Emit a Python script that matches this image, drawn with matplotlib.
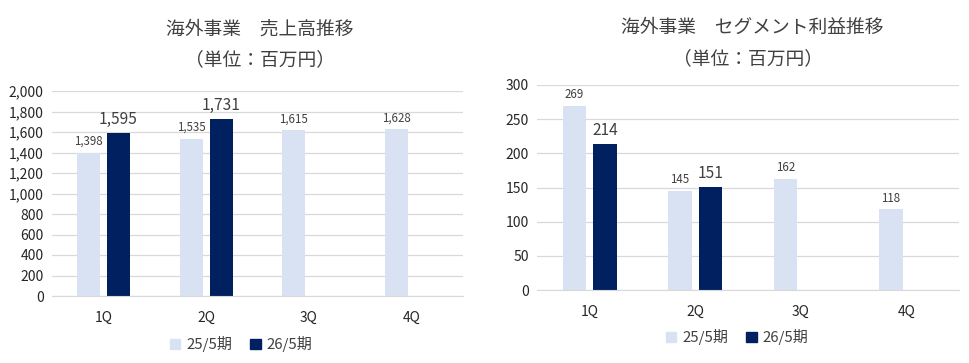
import matplotlib
matplotlib.use("Agg")
import matplotlib.pyplot as plt
import numpy as np
from matplotlib.patches import Patch

plt.rcParams["font.family"] = ["Noto Sans CJK JP", "DejaVu Sans"]

quarters = ["1Q", "2Q", "3Q", "4Q"]
series_names = ["25/5期", "26/5期"]
sales_prev = [1398, 1535, 1615, 1628]
sales_curr = [1595, 1731, np.nan, np.nan]
profit_prev = [269, 145, 162, 118]
profit_curr = [214, 151, np.nan, np.nan]

LIGHT = "#D9E2F3"
DARK = "#002060"
GRID = "#D9D9D9"
TXT = "#404040"

W, H = 970, 363
fig = plt.figure(figsize=[W / 100, H / 100], dpi=100)


def px_axes(x0, y0, x1, y1):
    return fig.add_axes([x0 / W, 1 - y1 / H, (x1 - x0) / W, (y1 - y0) / H])


def draw(ax, prev, curr, ymax, step, fmt):
    x = np.arange(len(quarters))
    bw = 0.224
    off = 0.146
    ax.bar(x - off, prev, bw, color=LIGHT, zorder=2)
    ax.bar(x + off, curr, bw, color=DARK, zorder=2)
    for xi, v in zip(x, prev):
        ax.annotate(fmt(v), (xi - off, v), xytext=(0, 3.5), textcoords="offset points",
                    ha="center", va="bottom", fontsize=8.3, color=TXT)
    for xi, v in zip(x, curr):
        if np.isnan(v):
            continue
        ax.annotate(fmt(v), (xi + off, v), xytext=(0, 3.5), textcoords="offset points",
                    ha="center", va="bottom", fontsize=11.2, color=TXT)
    ax.set_xlim(-0.5, len(quarters) - 0.5)
    ax.set_ylim(0, ymax)
    ticks = np.arange(0, ymax + 1, step)
    ax.set_yticks(ticks)
    ax.set_yticklabels([fmt(t) for t in ticks], fontsize=10, color="#262626")
    ax.set_xticks(x)
    ax.set_xticklabels(quarters, fontsize=10, color="#262626")
    ax.tick_params(length=0)
    ax.tick_params(axis="x", pad=11)
    ax.tick_params(axis="y", pad=6)
    ax.grid(axis="y", color=GRID, linewidth=0.9, zorder=0)
    for s in ["top", "right", "left"]:
        ax.spines[s].set_visible(False)
    ax.spines["bottom"].set_color(GRID)


ax1 = px_axes(52, 91, 463, 296)
draw(ax1, sales_prev, sales_curr, 2000, 200, lambda v: f"{int(v):,}")
ax2 = px_axes(537, 85, 959, 290)
draw(ax2, profit_prev, profit_curr, 300, 50, lambda v: f"{int(v)}")

fig.text(260 / W, 1 - 29 / H, "海外事業　売上高推移", ha="center", va="center",
         fontsize=13.5, color=TXT)
fig.text(260 / W, 1 - 60 / H, "（単位：百万円）", ha="center", va="center",
         fontsize=13.5, color=TXT)
fig.text(752 / W, 1 - 27 / H, "海外事業　セグメント利益推移", ha="center", va="center",
         fontsize=13.5, color=TXT)
fig.text(748 / W, 1 - 59 / H, "（単位：百万円）", ha="center", va="center",
         fontsize=13.5, color=TXT)

handles = [Patch(color=LIGHT), Patch(color=DARK)]
for cx, cy in [(241, 344), (737, 337)]:
    fig.legend(handles, series_names, loc="center", bbox_to_anchor=(cx / W, 1 - cy / H),
               ncol=2, frameon=False, fontsize=10.8, handlelength=0.7, handleheight=0.7,
               handletextpad=0.4, columnspacing=1.2, labelcolor=TXT)

fig.savefig("out.png", dpi=100)
